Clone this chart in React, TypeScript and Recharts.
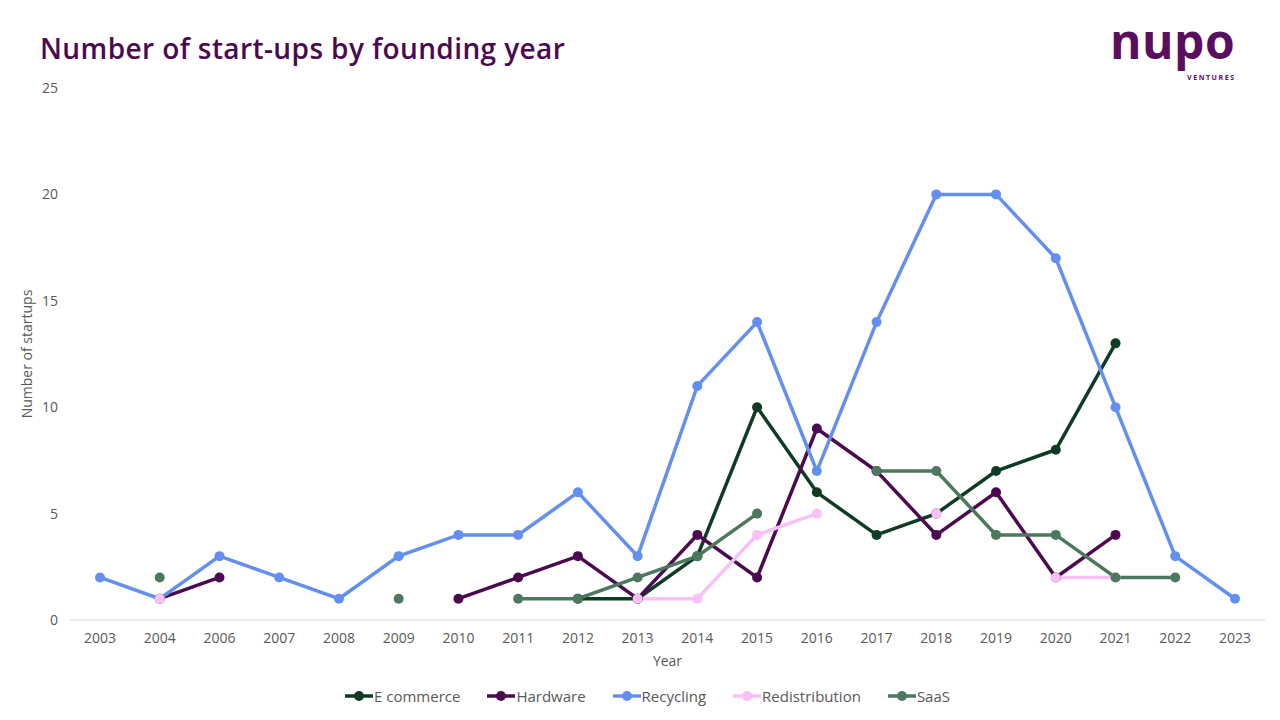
import React from "react";
import {
  LineChart,
  Line,
  XAxis,
  YAxis,
  Legend,
} from "recharts";

const years = ["2003", "2004", "2006", "2007", "2008", "2009", "2010", "2011", "2012", "2013", "2014", "2015", "2016", "2017", "2018", "2019", "2020", "2021", "2022", "2023"];

const eCommerce = [null, null, null, null, null, null, null, null, 1, 1, 3, 10, 6, 4, 5, 7, 8, 13, null, null];
const hardware = [null, 1, 2, null, null, null, 1, 2, 3, 1, 4, 2, 9, 7, 4, 6, 2, 4, null, null];
const recycling = [2, 1, 3, 2, 1, 3, 4, 4, 6, 3, 11, 14, 7, 14, 20, 20, 17, 10, 3, 1];
const redistribution = [null, 1, null, null, null, null, null, null, null, 1, 1, 4, 5, null, 5, null, 2, 2, null, null];
const saas = [null, 2, null, null, null, 1, null, 1, 1, 2, 3, 5, null, 7, 7, 4, 4, 2, 2, null];

const yTicks = [0, 5, 10, 15, 20, 25];

const series = [
  { key: "E commerce", values: eCommerce, color: "#0e3b23" },
  { key: "Hardware", values: hardware, color: "#4b0a4f" },
  { key: "Recycling", values: recycling, color: "#6390f0" },
  { key: "Redistribution", values: redistribution, color: "#fbc0f5" },
  { key: "SaaS", values: saas, color: "#4d785d" },
];

const data = years.map((y, i) => {
  const row: any = { year: y };
  series.forEach((s) => {
    row[s.key] = s.values[i];
  });
  return row;
});

const FONT = "'Open Sans', 'Noto Sans', sans-serif";
const GRAY = "#595959";

// legend with filled dot on a short line, like the original
function LegendContent() {
  return (
    <div style={{ display: "flex", justifyContent: "center", gap: 27, fontFamily: FONT, fontSize: 15, color: GRAY }}>
      {series.map((s) => (
        <div key={s.key} style={{ display: "flex", alignItems: "center" }}>
          <svg width={28} height={12} style={{ marginRight: 1 }}>
            <line x1={0} y1={6} x2={28} y2={6} stroke={s.color} strokeWidth={3.5} />
            <circle cx={14} cy={6} r={5} fill={s.color} />
          </svg>
          <span>{s.key}</span>
        </div>
      ))}
    </div>
  );
}

export default function App() {
  return (
    <div style={{ position: "absolute", left: 0, top: 0, width: 1280, height: 720, background: "#fff", fontFamily: FONT }}>
      <div style={{ position: "absolute", left: 40, top: 29, fontSize: 28, fontWeight: 600, color: "#4b0a4f", letterSpacing: 0.4 }}>
        Number of start-ups by founding year
      </div>
      <div style={{ position: "absolute", left: 1110, top: 22, fontSize: 48, fontWeight: 700, lineHeight: "38px", letterSpacing: 0.5, color: "#5a0e5f" }}>
        nupo
      </div>
      <div style={{ position: "absolute", left: 1187, top: 74, fontSize: 7, fontWeight: 700, letterSpacing: 1.6, lineHeight: "8px", color: "#5a0e5f" }}>
        VENTURES
      </div>
      <LineChart
        width={1280}
        height={720}
        data={data}
        margin={{ top: 88, right: 15, left: 30, bottom: 8 }}
      >
        <XAxis
          dataKey="year"
          tick={{ fill: GRAY, fontSize: 14, fontFamily: FONT }}
          tickLine={false}
          axisLine={{ stroke: "#d9d9d9" }}
          interval={0}
          height={66}
          tickMargin={7}
          padding={{ left: 30, right: 30 }}
          label={{ value: "Year", position: "insideBottom", offset: 20, fill: GRAY, fontSize: 14, fontFamily: FONT }}
        />
        <YAxis
          domain={[0, 25]}
          ticks={yTicks}
          tick={{ fill: GRAY, fontSize: 14, fontFamily: FONT }}
          tickLine={false}
          axisLine={false}
          width={40}
          tickMargin={6}
          label={{ value: "Number of startups", angle: -90, position: "insideLeft", offset: -3, fill: GRAY, fontSize: 14, fontFamily: FONT, style: { textAnchor: "middle" } }}
        />
        <Legend verticalAlign="bottom" height={26} content={<LegendContent />} />
        {series.map((s) => (
          <Line
            key={s.key}
            dataKey={s.key}
            stroke={s.color}
            strokeWidth={3.5}
            dot={{ r: 5, fill: s.color, stroke: s.color, strokeWidth: 0 }}
            activeDot={false}
            isAnimationActive={false}
            connectNulls={false}
            type="linear"
          />
        ))}
      </LineChart>
    </div>
  );
}
